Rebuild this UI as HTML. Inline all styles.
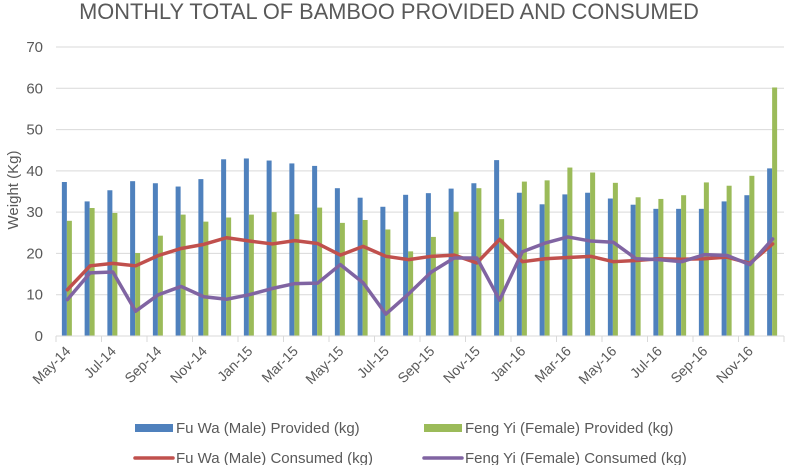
<!DOCTYPE html>
<html><head><meta charset="utf-8"><style>
body{margin:0;background:#fff;}
svg{display:block;font-family:"Liberation Sans",sans-serif;}
</style></head><body>
<svg id="chart" width="787" height="465" xmlns="http://www.w3.org/2000/svg">
<text x="389" y="19" text-anchor="middle" font-size="21.8" fill="#595959">MONTHLY TOTAL OF BAMBOO PROVIDED AND CONSUMED</text>
<text transform="translate(18,190) rotate(-90)" text-anchor="middle" font-size="15" fill="#595959">Weight (Kg)</text>
<g id="grid"></g><g id="bars"></g><g id="lines"></g><g id="axes"></g>
<g font-size="15" fill="#595959">
<rect x="135" y="424" width="38" height="8" fill="#4f81bd"/>
<text x="176" y="433">Fu Wa (Male) Provided (kg)</text>
<rect x="424" y="424" width="38" height="8" fill="#9bbb59"/>
<text x="465" y="433">Feng Yi (Female) Provided (kg)</text>
<line x1="135" y1="458" x2="173" y2="458" stroke="#c0504d" stroke-width="3.5" stroke-linecap="round"/>
<text x="176" y="463">Fu Wa (Male) Consumed (kg)</text>
<line x1="424" y1="458" x2="462" y2="458" stroke="#8064a2" stroke-width="3.5" stroke-linecap="round"/>
<text x="465" y="463">Feng Yi (Female) Consumed (kg)</text>
</g>
</svg>
<script>
const months=["May-14","Jun-14","Jul-14","Aug-14","Sep-14","Oct-14","Nov-14","Dec-14","Jan-15","Feb-15","Mar-15","Apr-15","May-15","Jun-15","Jul-15","Aug-15","Sep-15","Oct-15","Nov-15","Dec-15","Jan-16","Feb-16","Mar-16","Apr-16","May-16","Jun-16","Jul-16","Aug-16","Sep-16","Oct-16","Nov-16","Dec-16"];
const fuwaProvided=[37.3,32.6,35.3,37.5,37,36.2,38,42.8,43,42.5,41.8,41.2,35.8,33.5,31.3,34.2,34.6,35.7,37,42.6,34.7,31.9,34.3,34.7,33.3,31.8,30.8,30.8,30.8,32.6,34.1,40.6];
const fengyiProvided=[27.9,31,29.8,20.1,24.3,29.4,27.7,28.7,29.4,30,29.5,31.1,27.4,28.1,25.8,20.5,24,30.1,35.8,28.3,37.4,37.7,40.8,39.6,37.1,33.6,33.2,34.1,37.2,36.4,38.8,60.2];
const fuwaConsumed=[11.2,17,17.6,17,19.5,21.2,22.2,23.8,23,22.3,23.1,22.4,19.6,21.7,19.3,18.5,19.3,19.6,17.7,23.4,18,18.7,19,19.3,18,18.3,18.7,18.6,18.7,19.1,17.6,22.3];
const fengyiConsumed=[8.8,15.3,15.5,6,10,12,9.5,8.9,10,11.5,12.7,12.8,17.3,12.9,5.3,10.2,15.5,18.9,18.9,8.7,20.4,22.5,24,23,22.7,18.7,18.5,18,19.7,19.5,17.3,23.5];
const yTicks=[0,10,20,30,40,50,60,70];
const NS="http://www.w3.org/2000/svg";
const x0=56,x1=784,yBase=336,yTop=47,yMax=70;
const band=(x1-x0)/months.length;
const xC=i=>x0+band*(i+0.5);
const yS=v=>yBase-(v/yMax)*(yBase-yTop);
function mk(tag,attrs,parent){const e=document.createElementNS(NS,tag);for(const k in attrs)e.setAttribute(k,attrs[k]);parent.appendChild(e);return e;}
const grid=document.getElementById('grid'),bars=document.getElementById('bars'),lines=document.getElementById('lines'),axes=document.getElementById('axes');
yTicks.forEach(t=>{
 if(t>0){const g=mk('line',{x1:x0,x2:x1,y1:yS(t),y2:yS(t),stroke:'#d9d9d9','stroke-width':1},grid);
 
 }
 const l=mk('text',{x:43,y:yS(t)+5,'text-anchor':'end','font-size':15,fill:'#595959'},axes);l.textContent=t;
 
 
});
months.forEach((m,i)=>{
 const b1=mk('rect',{x:xC(i)-5.5,y:yS(fuwaProvided[i]),width:5,height:yBase-yS(fuwaProvided[i]),fill:'#4f81bd'},bars);
 
 
 const b2=mk('rect',{x:xC(i)-0.5,y:yS(fengyiProvided[i]),width:5,height:yBase-yS(fengyiProvided[i]),fill:'#9bbb59'},bars);
 
 
 if(i%2===0){
  const lb=mk('text',{transform:`translate(${xC(i)+4},${yBase+16}) rotate(-45)`,'text-anchor':'end','font-size':14,fill:'#595959'},axes);lb.textContent=m;
  
  
 }
});
for(let k=0;k<=months.length;k+=2){const t=mk('line',{x1:x0+band*k,x2:x0+band*k,y1:yBase,y2:yBase+6,stroke:'#d9d9d9'},axes);
 
 }
const ax=mk('line',{x1:x0,x2:x1,y1:yBase,y2:yBase,stroke:'#d9d9d9'},axes);


[[fuwaConsumed,'#c0504d','line-fuwa-consumed'],[fengyiConsumed,'#8064a2','line-fengyi-consumed']].forEach(([d,c,n])=>{
 const p=mk('polyline',{points:d.map((v,i)=>xC(i)+','+yS(v)).join(' '),fill:'none',stroke:c,'stroke-width':3.5,'stroke-linejoin':'round','stroke-linecap':'round'},lines);
 
 
});
</script>
</body></html>
